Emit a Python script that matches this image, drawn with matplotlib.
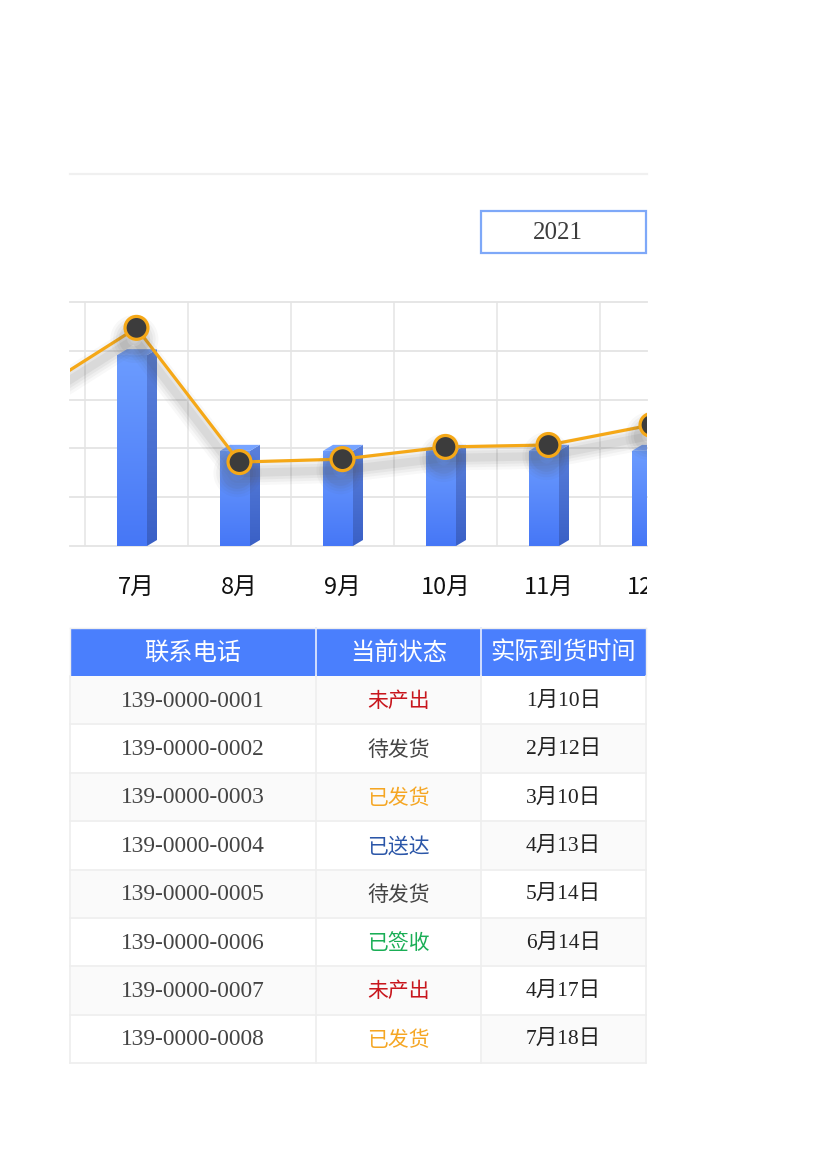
import matplotlib
matplotlib.use("Agg")
import matplotlib.pyplot as plt
import matplotlib.patheffects as pe
from matplotlib.patches import Polygon, Rectangle
from matplotlib.colors import LinearSegmentedColormap
import numpy as np

# ---------------- data ----------------
months = ['6月', '7月', '8月', '9月', '10月', '11月', '12月']
bar_values = [300, 391, 195, 195, 195, 195, 195]
line_values = [313, 447, 172, 178, 203, 207, 248]
year_label = '2021'

table_header = ['联系电话', '当前状态', '实际到货时间']
phones = ['139-0000-0001', '139-0000-0002', '139-0000-0003', '139-0000-0004',
          '139-0000-0005', '139-0000-0006', '139-0000-0007', '139-0000-0008']
statuses = ['未产出', '待发货', '已发货', '已送达', '待发货', '已签收', '未产出', '已发货']
arrivals = ['1月10日', '2月12日', '3月10日', '4月13日', '5月14日', '6月14日', '4月17日', '7月18日']
status_colors = {'未产出': '#c8161d', '待发货': '#444444', '已发货': '#f5a623',
                 '已送达': '#2b56a8', '已签收': '#1aae56'}

W, H = 827, 1170
fig = plt.figure(figsize=(W / 100, H / 100), dpi=100)
fig.patch.set_facecolor('white')

def fax(x0, y0, x1, y1):
    return fig.add_axes([x0 / W, 1 - y1 / H, (x1 - x0) / W, (y1 - y0) / H])

# ---------------- background (pixel coordinates) ----------------
bg = fig.add_axes([0, 0, 1, 1])
bg.set_xlim(0, W)
bg.set_ylim(H, 0)
bg.axis('off')

bg.plot([70, 647], [174, 174], color='#f0f0f0', lw=1.6)
bg.add_patch(Rectangle((481, 210.5), 165, 42.5, facecolor='white', edgecolor='#7ea8f8', lw=1.6))
bg.text(558, 233, year_label, ha='center', va='center', fontsize=18,
        family='Liberation Serif', color='#3c3c3c')

# ---------------- table ----------------
col_x = [70, 316, 481, 646]
head_top, head_bot = 628, 676
row_h = (1063 - 676) / 8
grey_cell = '#fafafa'
line_col = '#eeeeee'

bg.add_patch(Rectangle((70, head_top), 576, head_bot - head_top, facecolor='#4a7ffd', edgecolor='none'))
for j, name in enumerate(table_header):
    cx = (col_x[j] + col_x[j + 1]) / 2
    bg.text(cx, (head_top + head_bot) / 2 + 1, name, ha='center', va='center', fontsize=17.5,
            family='Noto Sans CJK SC', color='white')
for x in col_x[1:-1]:
    bg.plot([x, x], [head_top, head_bot], color='#dce6ff', lw=1.3)

for i in range(8):
    y0 = head_bot + i * row_h
    for j in range(3):
        if i % 2 == 0:
            fc = grey_cell if j < 2 else 'white'
        else:
            fc = 'white' if j < 2 else grey_cell
        bg.add_patch(Rectangle((col_x[j], y0), col_x[j + 1] - col_x[j], row_h,
                               facecolor=fc, edgecolor='none'))
    cy = y0 + row_h / 2 + 1
    bg.text((col_x[0] + col_x[1]) / 2, cy, phones[i], ha='center', va='center',
            fontsize=16.8, family='Liberation Serif', color='#444444')
    bg.text((col_x[1] + col_x[2]) / 2, cy, statuses[i], ha='center', va='center',
            fontsize=15, family='Noto Sans CJK SC', color=status_colors[statuses[i]])
    bg.text((col_x[2] + col_x[3]) / 2, cy, arrivals[i], ha='center', va='center',
            fontsize=15.5, family=['Liberation Serif', 'Noto Sans CJK SC'], color='#222222')

for i in range(1, 9):
    y = head_bot + i * row_h
    bg.plot([70, 646], [y, y], color=line_col, lw=1.2)
for x in col_x:
    bg.plot([x, x], [head_bot, 1063], color=line_col, lw=1.2)
bg.plot([70, 70], [head_top, head_bot], color=line_col, lw=1.0)
bg.plot([646, 646], [head_top, head_bot], color=line_col, lw=1.0)
bg.plot([70, 646], [head_top, head_top], color=line_col, lw=1.0)

# ---------------- chart ----------------
px_x0, px_x1, px_y0, px_y1 = 70, 647, 302, 546
step_px = 103.0
center0 = 33.5
ymax = 500
ax = fax(px_x0, px_y0, px_x1, px_y1)
xl = ((px_x0 - center0) / step_px, (px_x1 - center0) / step_px)
ax.set_xlim(*xl)
ax.set_ylim(0, ymax)
ax.axis('off')
ax.set_zorder(2)
ax.patch.set_alpha(0)

# grid
for gy in range(0, ymax + 1, 100):
    ax.plot(xl, [gy, gy], color='#e4e4e4', lw=1.3, zorder=0, clip_on=False)
for k in range(len(months)):
    ax.plot([k + 0.5, k + 0.5], [0, ymax], color='#e4e4e4', lw=1.1, zorder=0)

ux = 1 / step_px
uy = ymax / (px_y1 - px_y0)
dx, dy = 10 * ux, 6 * uy

front_cmap = LinearSegmentedColormap.from_list('f', ['#4677f6', '#6c9cff'])
side_cmap = LinearSegmentedColormap.from_list('s', ['#3a60c6', '#5a80dc'])
grad = np.linspace(0, 1, 256).reshape(-1, 1)

for k, v in enumerate(bar_values):
    fl, fr = k - 19.5 * ux, k + 10.5 * ux
    front = Polygon([(fl, 0), (fr, 0), (fr, v), (fl, v)], closed=True, facecolor='none',
                    edgecolor='none', zorder=2)
    ax.add_patch(front)
    im = ax.imshow(grad, extent=[fl, fr, 0, v], origin='lower', cmap=front_cmap,
                   aspect='auto', zorder=2)
    im.set_clip_path(front)
    side = Polygon([(fr, 0), (fr + dx, dy), (fr + dx, v + dy), (fr, v)], closed=True,
                   facecolor='none', edgecolor='none', zorder=2)
    ax.add_patch(side)
    im2 = ax.imshow(grad, extent=[fr, fr + dx, 0, v + dy], origin='lower', cmap=side_cmap,
                    aspect='auto', zorder=2)
    im2.set_clip_path(side)
    ax.add_patch(Polygon([(fl, v), (fr, v), (fr + dx, v + dy), (fl + dx, v + dy)], closed=True,
                         facecolor='#77a4ff', edgecolor='none', zorder=2))

ax.set_xlim(*xl)
ax.set_ylim(0, ymax)

xs = np.arange(len(months))
shadow = []
for w, a in [(18, 0.04), (14, 0.05), (10, 0.06), (6, 0.08)]:
    shadow.append(pe.SimpleLineShadow(offset=(-1.5, -8), shadow_color='#505050', alpha=a,
                                      rho=1.0, linewidth=w))
shadow.append(pe.Normal())
ax.plot(xs, line_values, color='#f5a817', lw=2.3, marker='o', markersize=16.5,
        markerfacecolor='#3c3c3c', markeredgecolor='#f5a817', markeredgewidth=2.3,
        zorder=4, path_effects=shadow)

# x labels (clipped to the visible chart width)
lax = fax(px_x0, 560, px_x1, 615)
lax.set_xlim(*xl)
lax.set_ylim(0, 1)
lax.axis('off')
for k, m in enumerate(months):
    lax.text(k, 0.5, m, ha='center', va='center', fontsize=17,
             family=['Noto Sans CJK SC', 'DejaVu Sans'], color='#111111', clip_on=True)

fig.savefig('out.png', dpi=100, facecolor='white')
